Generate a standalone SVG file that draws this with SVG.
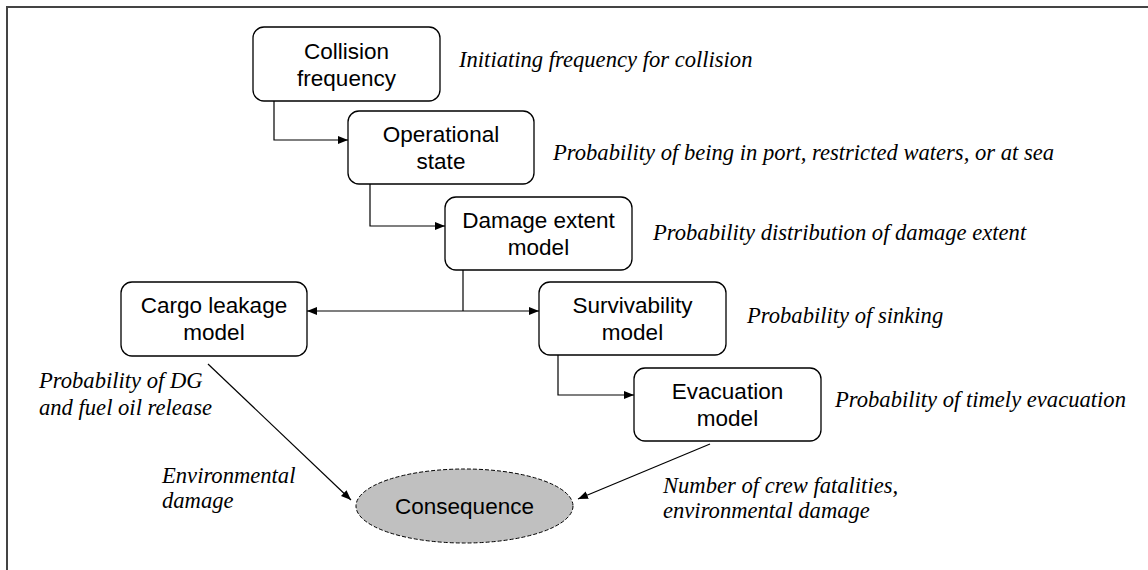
<svg xmlns="http://www.w3.org/2000/svg" width="1148" height="570" viewBox="0 0 1148 570">
<style>
.box{fill:#fff;stroke:#000;stroke-width:1.3}
.nt{font-family:"Liberation Sans",Arial,sans-serif;font-size:22.5px;fill:#000;text-anchor:middle}
.lb{font-family:"Liberation Serif","Times New Roman",serif;font-style:italic;font-size:22.6px;fill:#000}
.cn{fill:none;stroke:#000;stroke-width:1.2}
</style>
<defs>
<marker id="ah" viewBox="0 0 10 10" refX="10" refY="5" markerWidth="10" markerHeight="10" markerUnits="userSpaceOnUse" orient="auto-start-reverse">
<path d="M0,1 L10,5 L0,9 Z" fill="#000"/>
</marker>
</defs>
<rect width="1148" height="570" fill="#fff"/>
<path d="M7,570 V7 H1148" fill="none" stroke="#444" stroke-width="2"/>

<g id="connectors">
<path class="cn" d="M274,101 V140 H348" marker-end="url(#ah)"/>
<path class="cn" d="M370,184 V226 H445" marker-end="url(#ah)"/>
<path class="cn" d="M463,270 V311"/>
<path class="cn" d="M307,311 H539" marker-start="url(#ah)" marker-end="url(#ah)"/>
<path class="cn" d="M558,355 V395 H634" marker-end="url(#ah)"/>
<path class="cn" d="M208,364 L351,500" marker-end="url(#ah)"/>
<path class="cn" d="M710,444 L578,499" marker-end="url(#ah)"/>
</g>

<g id="collision">
<rect class="box" x="253" y="27" width="187" height="74" rx="11"/>
<text class="nt" x="346.5" y="59">Collision</text>
<text class="nt" x="346.5" y="86">frequency</text>
</g>
<g id="operational">
<rect class="box" x="348" y="111" width="186" height="73" rx="11"/>
<text class="nt" x="441" y="142">Operational</text>
<text class="nt" x="441" y="169">state</text>
</g>
<g id="damage">
<rect class="box" x="445" y="197" width="187" height="73" rx="11"/>
<text class="nt" x="538.5" y="228">Damage extent</text>
<text class="nt" x="538.5" y="255">model</text>
</g>
<g id="cargo">
<rect class="box" x="121" y="282" width="186" height="74" rx="11"/>
<text class="nt" x="214" y="313">Cargo leakage</text>
<text class="nt" x="214" y="340">model</text>
</g>
<g id="survivability">
<rect class="box" x="539" y="282" width="187" height="73" rx="11"/>
<text class="nt" x="632.5" y="313">Survivability</text>
<text class="nt" x="632.5" y="340">model</text>
</g>
<g id="evacuation">
<rect class="box" x="634" y="368" width="187" height="73" rx="11"/>
<text class="nt" x="727.5" y="399">Evacuation</text>
<text class="nt" x="727.5" y="426">model</text>
</g>
<g id="consequence">
<ellipse cx="464.5" cy="506" rx="108.5" ry="37" fill="#c0c0c0" stroke="#000" stroke-width="1" stroke-dasharray="4,2"/>
<text class="nt" x="464.5" y="514">Consequence</text>
</g>

<g id="labels">
<text class="lb" x="459" y="67">Initiating frequency for collision</text>
<text class="lb" x="553" y="160">Probability of being in port, restricted waters, or at sea</text>
<text class="lb" x="653" y="240">Probability distribution of damage extent</text>
<text class="lb" x="747" y="323">Probability of sinking</text>
<text class="lb" x="835" y="407">Probability of timely evacuation</text>
<text class="lb" x="39" y="388">Probability of DG</text>
<text class="lb" x="39" y="415">and fuel oil release</text>
<text class="lb" x="162" y="483">Environmental</text>
<text class="lb" x="162" y="508">damage</text>
<text class="lb" x="663" y="493">Number of crew fatalities,</text>
<text class="lb" x="663" y="518">environmental damage</text>
</g>
</svg>
